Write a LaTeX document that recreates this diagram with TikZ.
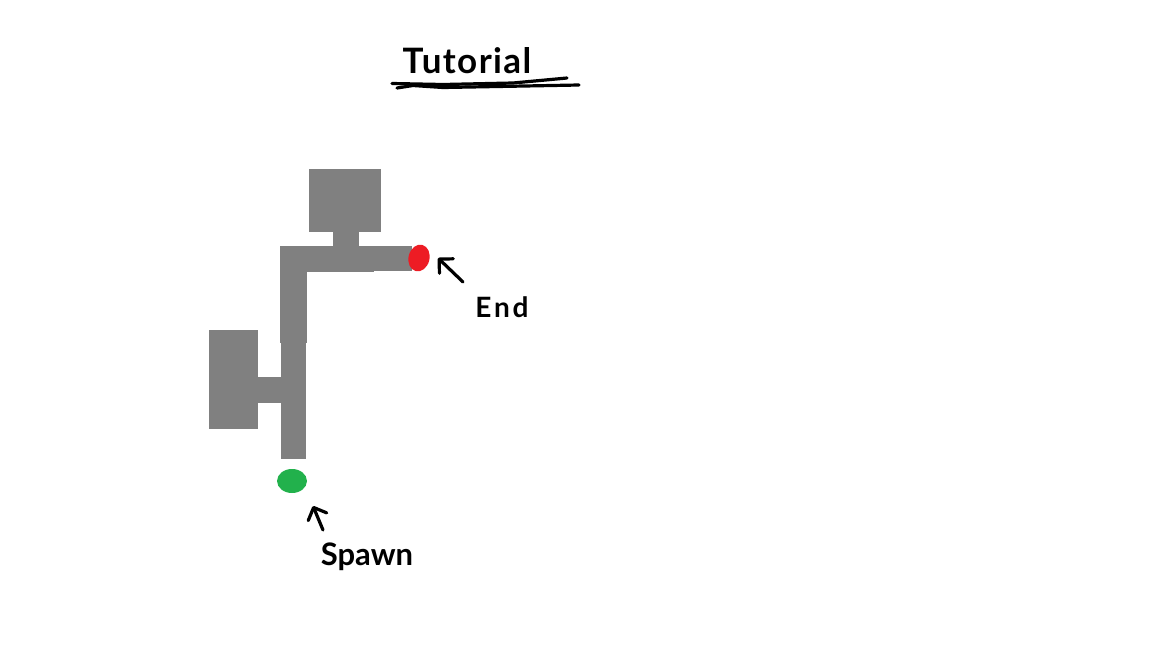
\documentclass[tikz,border=0pt]{standalone}
\usepackage{fontspec}
\setmainfont{Lato}
\usetikzlibrary{arrows.meta,shapes.geometric}
\definecolor{roomgray}{HTML}{808080}
\definecolor{endred}{HTML}{ED1C24}
\definecolor{spawngreen}{HTML}{22B14C}
\tikzset{
	room/.style = {fill=roomgray},
	ink/.style = {line width=3.2pt,line cap=round,line join=round},
	pointer/.style = {ink,-{Straight Barb[length=10pt,width=20pt,line width=3.2pt,round]}},
	word/.style = {inner sep=0pt},
	blob/.style = {ellipse,inner sep=0pt}
}
\begin{document}
\begin{tikzpicture}[x=1pt,y=-1pt]
	\useasboundingbox (0,0) rectangle (1152,648);
	% rooms
	\fill [room] (309,169) rectangle (381,232);
	\fill [room] (333,232) rectangle (359,246);
	\fill [room] (280,246) rectangle (374,272);
	\fill [room] (374,246) rectangle (412,271);
	\fill [room] (280,272) rectangle (307,343);
	\fill [room] (281,343) rectangle (306,459);
	\fill [room] (258,377) rectangle (281,403);
	\fill [room] (209,330) rectangle (258,429);
	% start and end
	\node [blob,fill=endred,minimum width=21pt,minimum height=27pt,rotate=-14] (endspot) at (419,258) {};
	\node [blob,fill=spawngreen,minimum width=30pt,minimum height=24pt] (spawnspot) at (292,481) {};
	% title
	\node [word,font=\bfseries\fontsize{35}{35}\selectfont\addfontfeature{LetterSpace=4}] (title) at (467,61) {Tutorial};
	\draw [ink] (392,83.5) -- (443,84.5) -- (513,83) -- (567,78);
	\draw [ink] (397,88) -- (413,85.5) -- (443,87.5) -- (579,85);
	% labels
	\node [word,font=\bfseries\fontsize{28}{28}\selectfont\addfontfeature{LetterSpace=10}] (endlabel) at (502,307) {End};
	\node [word,font=\bfseries\fontsize{31}{31}\selectfont] (spawnlabel) at (367,557) {Spawn};
	% arrows
	\coordinate (endtail) at (463,282);
	\coordinate (endtip) at (438,258);
	\coordinate (spawntail) at (323,530);
	\coordinate (spawntip) at (313,506);
	\draw [pointer] (endtail) -- (endtip);
	\draw [pointer] (spawntail) -- (spawntip);
\end{tikzpicture}
\end{document}
